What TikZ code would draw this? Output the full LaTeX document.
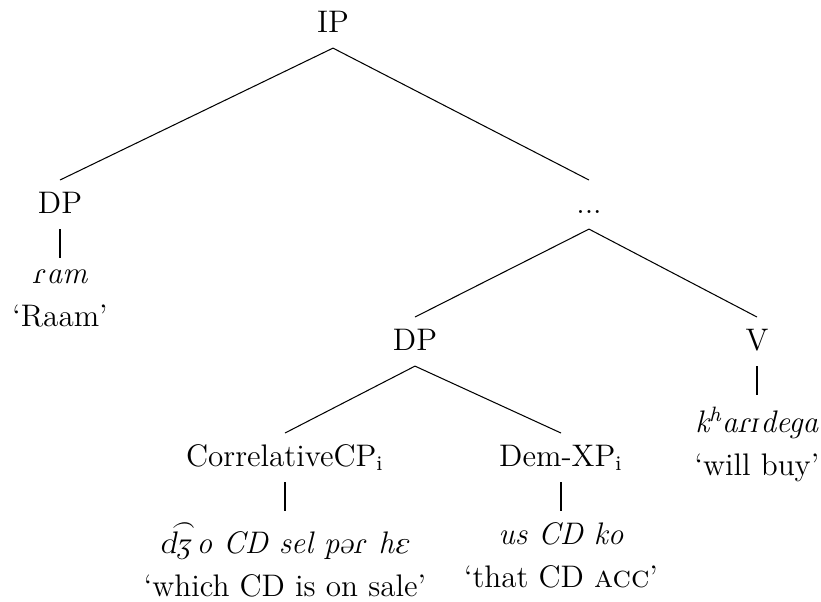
\documentclass[12pt,tikz,border=0pt]{standalone}
\usepackage{tipa}
\usetikzlibrary{positioning}

\newcommand{\ipasl}[1]{\tikz[baseline=0pt, x=1cm, y=1cm]
  \node[inner sep=0pt, outer sep=0pt, anchor=base, xslant=0.21, transform shape] at (0,0) {\textipa{#1}};}

\begin{document}
\begin{tikzpicture}[x=0.385pt, y=-0.385pt,
    cat/.style={anchor=base, inner sep=4pt, text height=8.5pt, text depth=2pt},
    leaf/.style={align=center, inner sep=4.5pt},
    node distance=11pt]
  \useasboundingbox (0,0) rectangle (821,601);

  %% Phrase labels
  \node[cat] (IP)     at (333,32)  {IP};
  \node[cat] (DPa)    at (60,213)  {DP};
  \node[cat] (dots)   at (589,213) {...};
  \node[cat] (DPb)    at (415,350) {DP};
  \node[cat] (V)      at (757,350) {V};
  \node[cat] (CorrCP) at (285,466) {CorrelativeCP\textsubscript{i}};
  \node[cat] (DemXP)  at (561,466) {Dem-XP\textsubscript{i}};

  %% Branches
  \foreach \up/\down in {IP/DPa, IP/dots, dots/DPb, dots/V, DPb/CorrCP, DPb/DemXP}
    \draw (\up.south) -- (\down.north);

  %% Leaves and glosses
  \foreach \cat/\word/\gloss in {DPa/{\ipasl{\textfishhookr}am}/`Raam',
      V/{k\textsuperscript{h}a\ipasl{\textfishhookr I}dega}/`will buy',
      CorrCP/{\ipasl{\t{dZ}}o CD sel p\ipasl{@\textfishhookr} h\ipasl{E}}/`which CD is on sale',
      DemXP/{us CD ko}/{`that CD \textsc{acc}'}}
  {
    \node[leaf, below=of \cat] (\cat-leaf) {\textit{\word}\\[2pt] \gloss};
    \draw (\cat.south) -- (\cat-leaf.north);
  }
\end{tikzpicture}
\end{document}
